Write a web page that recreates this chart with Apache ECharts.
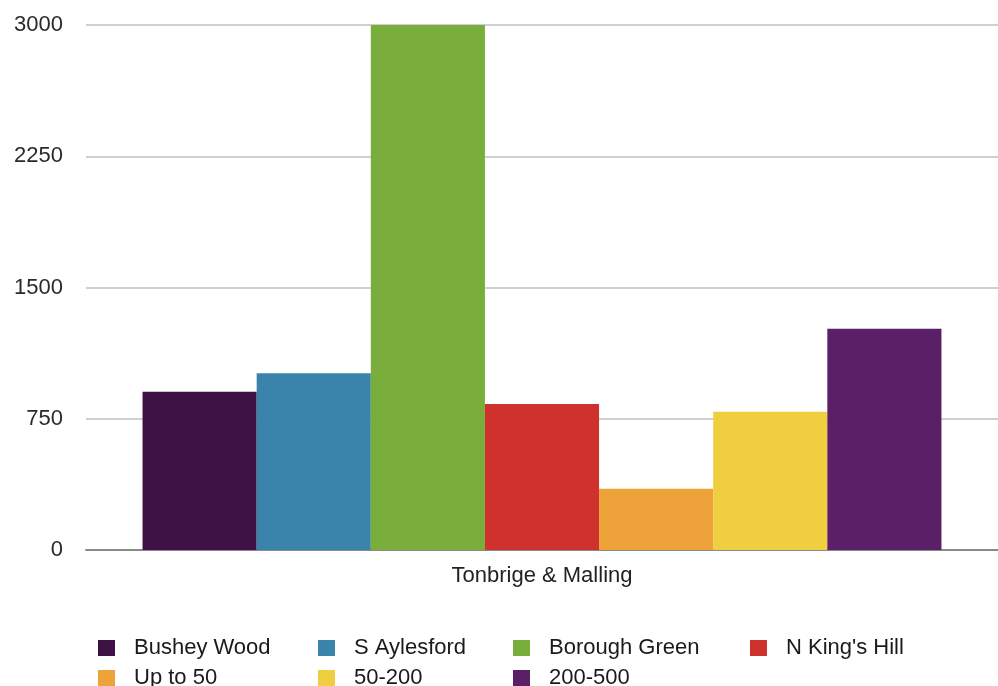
<!DOCTYPE html>
<html>
<head>
<meta charset="utf-8">
<script src="https://cdn.jsdelivr.net/npm/echarts@6/dist/echarts.min.js"></script>
<style>html,body{margin:0;padding:0;background:#fff}#c{width:998px;height:686px}</style>
</head>
<body>
<div id="c"></div>
<script>
const categories = ['Tonbrige & Malling'];
const seriesNames = ['Bushey Wood', 'S Aylesford', 'Borough Green', "N King's Hill", 'Up to 50', '50-200', '200-500'];
const seriesValues = [905, 1010, 3000, 835, 350, 790, 1265];
const seriesColors = ['#3f1245', '#3a83ab', '#79ad3c', '#cf322c', '#eea23a', '#efcf40', '#5a1f66'];
const yTicks = [0, 750, 1500, 2250, 3000];

const font = 'Liberation Sans, Arial, Helvetica, sans-serif';
const legendPos = [
  [98, 637], [318, 637], [513, 637], [750, 637],
  [98, 667], [318, 667], [513, 667]
];

const chart = echarts.init(document.getElementById('c'));
chart.setOption({
  animation: false,
  backgroundColor: '#fff',
  grid: { left: 86, right: 0, top: 25, bottom: 136 },
  xAxis: {
    type: 'category',
    data: categories,
    axisTick: { show: false },
    axisLine: { lineStyle: { color: '#8a8a8a', width: 2 } },
    axisLabel: { color: '#222', fontFamily: font, fontSize: 22, margin: 15 }
  },
  yAxis: {
    type: 'value',
    min: yTicks[0],
    max: yTicks[yTicks.length - 1],
    interval: 750,
    axisLine: { show: false },
    axisTick: { show: false },
    splitLine: { lineStyle: { color: '#d0d0d0', width: 2 } },
    axisLabel: { color: '#2a2a2a', fontFamily: font, fontSize: 22, margin: 23, formatter: v => String(v) }
  },
  legend: seriesNames.map((n, i) => ({
    data: [n],
    left: legendPos[i][0],
    top: legendPos[i][1],
    padding: 0,
    itemWidth: 17,
    itemHeight: 16,
    icon: 'rect',
    selectedMode: false,
    textStyle: { color: '#1a1a1a', fontFamily: font, fontSize: 22, padding: [0, 0, 0, 14] }
  })),
  series: seriesNames.map((n, i) => ({
    name: n,
    type: 'bar',
    data: [seriesValues[i]],
    barGap: '0%',
    barCategoryGap: '12.4%',
    itemStyle: { color: seriesColors[i] }
  }))
});
</script>
</body>
</html>
